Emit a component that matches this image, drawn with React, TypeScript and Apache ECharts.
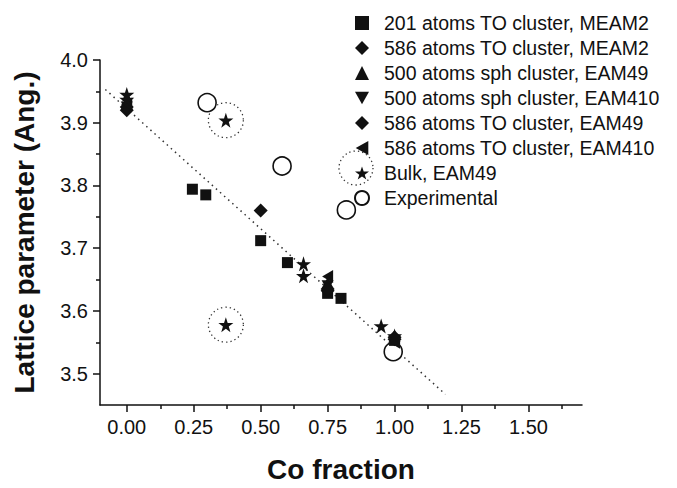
import React, { useEffect, useRef } from "react";
import * as echarts from "echarts";

// ---- data ----
const seriesNames = [
  "201 atoms TO cluster, MEAM2",
  "586 atoms TO cluster, MEAM2",
  "500 atoms sph cluster, EAM49",
  "500 atoms sph cluster, EAM410",
  "586 atoms TO cluster, EAM49",
  "586 atoms TO cluster, EAM410",
  "Bulk, EAM49",
  "Experimental",
];

const to201Meam2: number[][] = [
  [0.245, 3.794], [0.295, 3.785], [0.5, 3.712], [0.6, 3.677], [0.75, 3.628], [0.8, 3.62], [1.0, 3.553],
];
const to586Meam2: number[][] = [
  [0.0, 3.92], [0.5, 3.76], [0.75, 3.632], [1.0, 3.555],
];
const sph500Eam49: number[][] = [
  [0.0, 3.93], [0.75, 3.645], [1.0, 3.56],
];
const sph500Eam410: number[][] = [
  [0.0, 3.925], [0.75, 3.64], [1.0, 3.553],
];
const to586Eam49: number[][] = [
  [0.0, 3.925], [0.75, 3.635], [1.0, 3.558],
];
const to586Eam410: number[][] = [
  [0.0, 3.93], [0.75, 3.655], [1.0, 3.55],
];
const bulkEam49: number[][] = [
  [0.0, 3.945], [0.0, 3.937], [0.37, 3.904], [0.37, 3.578], [0.66, 3.675], [0.66, 3.656], [0.95, 3.576], [1.0, 3.56],
];
const experimental: number[][] = [
  [0.3, 3.932], [0.58, 3.831], [0.82, 3.761], [0.995, 3.535],
];
const highlighted: number[][] = [
  [0.37, 3.904], [0.37, 3.578],
];
const trendX = [-0.08, 1.19];
const trendY = [3.953, 3.467];

const xMajor = [0, 0.25, 0.5, 0.75, 1.0, 1.25, 1.5];
const xMinor = [0.125, 0.375, 0.625, 0.875, 1.125, 1.375, 1.625];
const yMajor = [3.5, 3.6, 3.7, 3.8, 3.9, 4.0];
const yMinor = [3.55, 3.65, 3.75, 3.85, 3.95];

const FONT = "'Liberation Sans', Arial, Helvetica, sans-serif";
const INK = "#111";
const STAR =
  "path://M50,0 L61.8,35.1 L98.1,35.1 L68.8,56.7 L79.4,90.5 L50,69.5 L20.6,90.5 L31.2,56.7 L1.9,35.1 L38.2,35.1 Z";
const TRI_DOWN = "path://M0,0 L10,0 L5,9 Z";
const TRI_LEFT = "path://M9,0 L9,10 L0,5 Z";

const LEGEND_LEFT = 349;
const LEGEND_TOP = 8;
const ROW_H = 20;
const ROW_GAP = 5;
const ICON = 14;

export default function App() {
  const ref = useRef<HTMLDivElement>(null);
  useEffect(() => {
    document.body.style.margin = "0";
    const chart = echarts.init(ref.current!, undefined, { renderer: "svg" });
    const axisLineStyle = { color: INK, width: 1.5 };
    const scatter = (name: string, data: number[][], symbol: string, size: any, extra: any = {}) => ({
      name,
      type: "scatter",
      data,
      symbol,
      symbolSize: size,
      itemStyle: { color: INK, opacity: 1 },
      z: 3,
      ...extra,
    });
    const bulkRow = 6;
    chart.setOption({
      animation: false,
      textStyle: { fontFamily: FONT },
      grid: { left: 100, right: 95, top: 60, bottom: 74 },
      legend: {
        data: seriesNames,
        orient: "vertical",
        left: LEGEND_LEFT,
        top: LEGEND_TOP,
        itemWidth: ICON,
        itemHeight: ICON,
        itemGap: ROW_GAP,
        textStyle: { fontSize: 19.5, color: INK, fontFamily: FONT, lineHeight: ROW_H, padding: [0, 0, 0, 10] },
        selectedMode: false,
      },
      graphic: [
        {
          type: "circle",
          shape: { cx: LEGEND_LEFT + ICON / 2, cy: LEGEND_TOP + bulkRow * (ROW_H + ROW_GAP) + ROW_H / 2, r: 17 },
          style: { fill: "none", stroke: "#333", lineWidth: 1.3, lineDash: [1.3, 3] },
          silent: true,
        },
      ],
      xAxis: [
        {
          type: "value",
          min: -0.1,
          max: 1.7,
          position: "bottom",
          axisLine: { show: true, onZero: false, lineStyle: axisLineStyle },
          axisTick: { show: true, customValues: xMajor, length: 7, lineStyle: axisLineStyle },
          axisLabel: {
            customValues: xMajor,
            formatter: (v: number) => v.toFixed(2),
            fontSize: 20,
            margin: 12,
            color: INK,
            fontFamily: FONT,
          },
          splitLine: { show: false },
          name: "Co fraction",
          nameLocation: "middle",
          nameGap: 50,
          nameTextStyle: { fontSize: 28, fontWeight: "bold", color: INK, fontFamily: FONT },
        },
        {
          type: "value",
          min: -0.1,
          max: 1.7,
          position: "bottom",
          axisLine: { show: false, onZero: false },
          axisTick: { show: true, customValues: xMinor, length: 4, lineStyle: axisLineStyle },
          axisLabel: { show: false },
          splitLine: { show: false },
        },
      ],
      yAxis: [
        {
          type: "value",
          min: 3.45,
          max: 4.0,
          position: "left",
          axisLine: { show: true, onZero: false, lineStyle: axisLineStyle },
          axisTick: { show: true, customValues: yMajor, length: 7, lineStyle: axisLineStyle },
          axisLabel: {
            customValues: yMajor,
            formatter: (v: number) => v.toFixed(1),
            fontSize: 20,
            margin: 12,
            color: INK,
            fontFamily: FONT,
          },
          splitLine: { show: false },
          name: "Lattice parameter (Ang.)",
          nameLocation: "middle",
          nameGap: 62,
          nameTextStyle: { fontSize: 28, fontWeight: "bold", color: INK, fontFamily: FONT },
        },
        {
          type: "value",
          min: 3.45,
          max: 4.0,
          position: "left",
          axisLine: { show: false, onZero: false },
          axisTick: { show: true, customValues: yMinor, length: 4, lineStyle: axisLineStyle },
          axisLabel: { show: false },
          splitLine: { show: false },
        },
      ],
      series: [
        {
          name: "trend",
          type: "line",
          data: [
            [trendX[0], trendY[0]],
            [trendX[1], trendY[1]],
          ],
          showSymbol: false,
          symbol: "none",
          lineStyle: { color: "#333", width: 1.5, type: [1.5, 4] },
          z: 1,
          silent: true,
        },
        {
          name: "highlight",
          type: "scatter",
          data: highlighted,
          symbol: "circle",
          symbolSize: 35,
          itemStyle: { color: "none", borderColor: "#333", borderWidth: 1.3, borderType: [1.3, 3], opacity: 1 },
          z: 1,
          silent: true,
        },
        scatter(seriesNames[7], experimental, "circle", 18, {
          itemStyle: { color: "#fff", borderColor: INK, borderWidth: 1.6, opacity: 1 },
          z: 2,
        }),
        scatter(seriesNames[0], to201Meam2, "rect", 11),
        scatter(seriesNames[1], to586Meam2, "diamond", 14),
        scatter(seriesNames[2], sph500Eam49, "triangle", [12, 11]),
        scatter(seriesNames[3], sph500Eam410, TRI_DOWN, [12, 11]),
        scatter(seriesNames[4], to586Eam49, "diamond", 14),
        scatter(seriesNames[5], to586Eam410, TRI_LEFT, [11, 13]),
        scatter(seriesNames[6], bulkEam49, STAR, 15, { z: 4 }),
      ],
    });
    return () => chart.dispose();
  }, []);
  return <div ref={ref} style={{ width: 677, height: 488 }} />;
}
